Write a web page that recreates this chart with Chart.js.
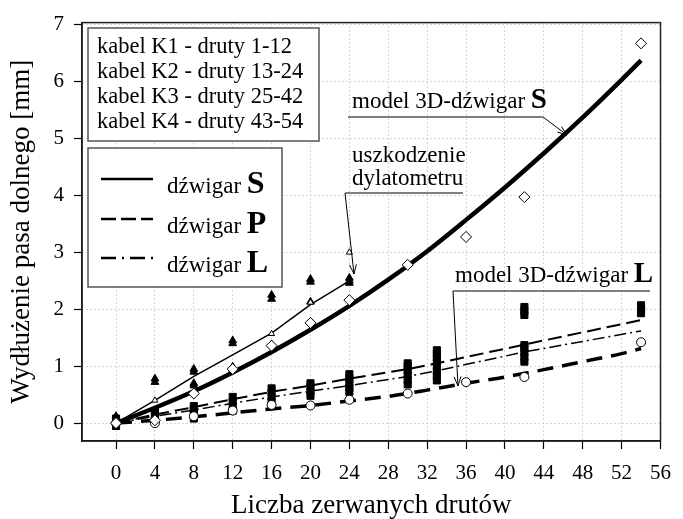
<!DOCTYPE html>
<html>
<head>
<meta charset="utf-8">
<script src="https://cdn.jsdelivr.net/npm/chart.js@4.4.1/dist/chart.umd.min.js"></script>
<style>
  html, body { margin: 0; padding: 0; background: #fff; }
  #chart { display: block; }
</style>
</head>
<body>
<canvas id="chart" width="683" height="519"></canvas>
<script>
const serif = "'Liberation Serif', 'Times New Roman', serif";

// axis ticks
const xTicks = [0, 4, 8, 12, 16, 20, 24, 28, 32, 36, 40, 44, 48, 52, 56];
const yTicks = [0, 1, 2, 3, 4, 5, 6, 7];

// model 3D - girder S (thick solid)
const modelSX = [0, 4, 8, 12, 16, 20, 24, 28, 32, 36, 40, 44, 48, 52, 54];
const modelSY = [0, 0.27, 0.56, 0.89, 1.25, 1.64, 2.06, 2.52, 3.02, 3.57, 4.14, 4.74, 5.37, 6.03, 6.37];

// model 3D - girder L (thick dashed)
const modelLX = [0, 4, 8, 12, 16, 20, 24, 28, 32, 36, 40, 44, 48, 52, 54];
const modelLY = [0, 0.05, 0.11, 0.18, 0.25, 0.31, 0.39, 0.47, 0.58, 0.70, 0.81, 0.94, 1.08, 1.22, 1.31];

// measured girder S (thin solid)
const girderSX = [0, 4, 8, 12, 16, 20, 24];
const girderSY = [0, 0.40, 0.82, 1.20, 1.58, 2.08, 2.50];

// measured girder P (dashed) and L (dash-dot)
const girderPX = [0, 4, 8, 12, 16, 20, 24, 30, 33, 42, 54];
const girderPY = [0, 0.15, 0.28, 0.42, 0.55, 0.66, 0.78, 0.95, 1.05, 1.38, 1.81];
const girderLX = [0, 4, 8, 12, 16, 20, 24, 30, 33, 42, 54];
const girderLY = [0, 0.12, 0.23, 0.35, 0.46, 0.56, 0.66, 0.82, 0.92, 1.25, 1.62];

// open diamonds
const diamondX = [0, 4, 8, 12, 16, 20, 24, 30, 36, 42, 54];
const diamondY = [0, 0.05, 0.52, 0.95, 1.36, 1.76, 2.16, 2.78, 3.27, 3.97, 6.67];

// open circles
const circleX = [0, 4, 8, 12, 16, 20, 24, 30, 36, 42, 54];
const circleY = [0, 0.0, 0.12, 0.22, 0.32, 0.31, 0.41, 0.52, 0.72, 0.81, 1.42];

// filled triangles
const triFillX = [0, 0, 4, 4, 8, 8, 8, 8, 12, 12, 12, 12, 16, 16, 16, 20, 20, 20, 24, 24, 24];
const triFillY = [0.12, 0.05, 0.78, 0.72, 0.95, 0.90, 0.70, 0.66, 1.45, 1.40, 0.99, 0.95, 2.25, 2.18, 1.38, 2.53, 2.48, 2.13, 2.55, 2.50, 2.46];

// open triangles
const triOpenX = [4, 16, 20, 24];
const triOpenY = [0.40, 1.57, 2.12, 3.0];

// filled squares
const squareX = [0, 0, 0, 4, 4, 4, 8, 8, 8, 8, 12, 12, 12, 12, 16, 16, 16, 16, 16,
  20, 20, 20, 20, 24, 24, 24, 24, 24, 30, 30, 30, 30, 30, 30,
  33, 33, 33, 33, 33, 33, 33, 33, 42, 42, 42, 42, 42, 42, 42, 42, 54, 54, 54];
const squareY = [-0.05, 0.02, 0.08, 0.06, 0.12, 0.20, 0.08, 0.16, 0.24, 0.30, 0.22, 0.30, 0.38, 0.46, 0.30, 0.38, 0.46, 0.54, 0.61,
  0.48, 0.56, 0.64, 0.70, 0.55, 0.62, 0.70, 0.78, 0.86, 0.68, 0.76, 0.84, 0.92, 1.00, 1.05,
  0.75, 0.83, 0.91, 0.99, 1.07, 1.15, 1.22, 1.28, 1.08, 1.16, 1.24, 1.32, 1.37, 1.90, 1.97, 2.04, 1.93, 2.00, 2.07];

function pts(xs, ys) {
  return xs.map((x, i) => ({ x: x, y: ys[i] }));
}

function markers(xs, ys, style, radius, fill, border) {
  return {
    data: pts(xs, ys), showLine: false, pointStyle: style, pointRadius: radius,
    pointBackgroundColor: fill, pointBorderColor: '#000', pointBorderWidth: border
  };
}

function line(xs, ys, width, dash, tension) {
  return {
    data: pts(xs, ys), showLine: true, borderColor: '#000', borderWidth: width,
    borderDash: dash, pointRadius: 0, tension: tension || 0,
    cubicInterpolationMode: tension ? 'monotone' : 'default'
  };
}

function arrow(ctx, x1, y1, x2, y2) {
  ctx.beginPath();
  ctx.moveTo(x1, y1);
  ctx.lineTo(x2, y2);
  const a = Math.atan2(y2 - y1, x2 - x1);
  const len = 10, spread = 0.35;
  ctx.moveTo(x2 - len * Math.cos(a - spread), y2 - len * Math.sin(a - spread));
  ctx.lineTo(x2, y2);
  ctx.lineTo(x2 - len * Math.cos(a + spread), y2 - len * Math.sin(a + spread));
  ctx.stroke();
}

function labelWithBold(ctx, x, y, text, size, bold, boldSize) {
  ctx.font = size + 'px ' + serif;
  ctx.fillText(text, x, y);
  const w = ctx.measureText(text).width;
  ctx.font = 'bold ' + boldSize + 'px ' + serif;
  ctx.fillText(bold, x + w, y);
}

// frame, legend boxes and annotations
const decorations = {
  id: 'decorations',
  afterDraw(chart) {
    const ctx = chart.ctx;
    const a = chart.chartArea;
    ctx.save();
    ctx.strokeStyle = '#222';
    ctx.lineWidth = 1.5;
    ctx.strokeRect(a.left, a.top, a.right - a.left, a.bottom - a.top);

    ctx.fillStyle = '#fff';
    ctx.strokeStyle = '#555';
    ctx.lineWidth = 1.5;
    ctx.fillRect(88, 28, 231, 113);
    ctx.strokeRect(88, 28, 231, 113);
    ctx.fillRect(88, 148, 194, 139);
    ctx.strokeRect(88, 148, 194, 139);

    ctx.fillStyle = '#000';
    ctx.textBaseline = 'alphabetic';
    ctx.textAlign = 'left';
    ctx.font = '22.5px ' + serif;
    ['kabel K1 - druty 1-12', 'kabel K2 - druty 13-24', 'kabel K3 - druty 25-42', 'kabel K4 - druty 43-54']
      .forEach((t, i) => ctx.fillText(t, 97, 53 + i * 25));

    const legendRows = [
      { letter: 'S', dash: [], y: 179 },
      { letter: 'P', dash: [15, 5], y: 219 },
      { letter: 'L', dash: [15, 6, 2, 6], y: 258 }
    ];
    legendRows.forEach(r => {
      ctx.strokeStyle = '#000';
      ctx.lineWidth = 2.5;
      ctx.setLineDash(r.dash);
      ctx.beginPath();
      ctx.moveTo(101, r.y);
      ctx.lineTo(153, r.y);
      ctx.stroke();
      ctx.setLineDash([]);
      labelWithBold(ctx, 167, r.y + 14, 'dźwigar ', 23, r.letter, 32);
    });

    ctx.strokeStyle = '#000';
    ctx.lineWidth = 1;
    labelWithBold(ctx, 352, 108, 'model 3D-dźwigar ', 23, 'S', 29);
    ctx.beginPath();
    ctx.moveTo(348, 117);
    ctx.lineTo(543, 117);
    ctx.stroke();
    arrow(ctx, 543, 117, 567, 135);

    ctx.font = '23px ' + serif;
    ctx.fillText('uszkodzenie', 352, 162);
    ctx.fillText('dylatometru', 352, 185);
    ctx.beginPath();
    ctx.moveTo(463, 193);
    ctx.lineTo(345, 193);
    ctx.stroke();
    arrow(ctx, 345, 193, 354, 274);

    labelWithBold(ctx, 455, 282, 'model 3D-dźwigar ', 23, 'L', 29);
    ctx.beginPath();
    ctx.moveTo(650, 291);
    ctx.lineTo(453, 291);
    ctx.stroke();
    arrow(ctx, 453, 291, 458, 386);
    ctx.restore();
  }
};

const tickFont = { family: serif, size: 21 };
const titleFont = { family: serif, size: 27, lineHeight: 1.2 };
const gridOpts = {
  color: '#b0b0b0', lineWidth: 1,
  tickLength: 8, tickColor: '#000', tickBorderDash: [], tickWidth: 1.2
};
const borderOpts = { display: true, color: '#000', width: 1.5, dash: [1, 3] };

new Chart(document.getElementById('chart'), {
  type: 'scatter',
  data: {
    datasets: [
      markers(triOpenX, triOpenY, 'triangle', 3.5, '#fff', 1),
      markers(diamondX, diamondY, 'rectRot', 5.5, '#fff', 1),
      markers(circleX, circleY, 'circle', 4.5, '#fff', 1),
      markers(triFillX, triFillY, 'triangle', 4.5, '#000', 1),
      markers(squareX, squareY, 'rect', 5, '#000', 1),
      line(girderSX, girderSY, 1.5, []),
      line(girderPX, girderPY, 2, [14, 6]),
      line(girderLX, girderLY, 1.5, [12, 4, 2, 4]),
      line(modelSX, modelSY, 4.5, [], 0.4),
      line(modelLX, modelLY, 3.5, [16, 9], 0.4)
    ]
  },
  options: {
    responsive: false,
    animation: false,
    devicePixelRatio: 1,
    layout: { padding: { top: 20, right: 11, left: 0, bottom: 0 } },
    plugins: { legend: { display: false }, tooltip: { enabled: false } },
    scales: {
      x: {
        type: 'linear',
        min: -3.5,
        max: 56,
        afterBuildTicks: s => { s.ticks = xTicks.map(v => ({ value: v })); },
        afterFit: s => { s.height = 78; },
        grid: gridOpts,
        border: borderOpts,
        ticks: { font: tickFont, color: '#000', padding: 12, maxRotation: 0, autoSkip: false },
        title: { display: true, text: 'Liczba zerwanych drutów', font: titleFont, color: '#000', padding: { top: 0, bottom: -3 } }
      },
      y: {
        type: 'linear',
        min: -0.314,
        max: 7.035,
        afterBuildTicks: s => { s.ticks = yTicks.map(v => ({ value: v })); },
        afterFit: s => { s.width = 82; },
        grid: gridOpts,
        border: borderOpts,
        ticks: { font: tickFont, color: '#000', padding: 10, autoSkip: false },
        title: { display: true, text: 'Wydłużenie pasa dolnego [mm]', font: titleFont, color: '#000', padding: { top: 6, bottom: 0 } }
      }
    }
  },
  plugins: [decorations]
});
</script>
</body>
</html>
